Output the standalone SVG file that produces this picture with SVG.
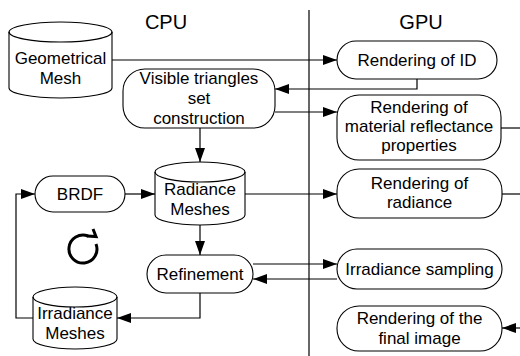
<svg xmlns="http://www.w3.org/2000/svg" width="520" height="356" viewBox="0 0 520 356">
<style>
.t{font-family:"Liberation Sans",Arial,sans-serif;font-size:17px;fill:#000;text-anchor:middle}
.h{font-family:"Liberation Sans",Arial,sans-serif;font-size:20px;fill:#000;text-anchor:middle}
.n{fill:#fff;stroke:#000;stroke-width:1.1}
.c{fill:none;stroke:#000;stroke-width:1.2}
</style>
<defs>
<marker id="a" markerUnits="userSpaceOnUse" markerWidth="16" markerHeight="10" refX="14" refY="5" orient="auto">
<path d="M0,0 L14,5 L0,10 Z" fill="#000"/>
</marker>
</defs>
<rect width="520" height="356" fill="#fff"/>
<line x1="309" y1="10" x2="309" y2="356" stroke="#000" stroke-width="1.2"/>
<text class="h" x="166" y="29">CPU</text>
<text class="h" x="421" y="29">GPU</text>
<g id="connectors">
<path class="c" d="M112,60 H337" marker-end="url(#a)"/>
<path class="c" d="M417,79 V89 H275" marker-end="url(#a)"/>
<path class="c" d="M275,112 H337" marker-end="url(#a)"/>
<path class="c" d="M501,128 H520"/>
<path class="c" d="M200,128 V162" marker-end="url(#a)"/>
<path class="c" d="M245,194 H337" marker-end="url(#a)"/>
<path class="c" d="M502,194 H520"/>
<path class="c" d="M125,194 H155" marker-end="url(#a)"/>
<path class="c" d="M200,225 V255" marker-end="url(#a)"/>
<path class="c" d="M253,264 H337" marker-end="url(#a)"/>
<path class="c" d="M337,279 H253" marker-end="url(#a)"/>
<path class="c" d="M200,293 V318 H117" marker-end="url(#a)"/>
<path class="c" d="M33,318 H16 V194 H35" marker-end="url(#a)"/>
<path class="c" d="M520,328 H502" marker-end="url(#a)"/>
</g>
<g id="geometrical-mesh">
<path class="n" d="M9,32 A51.5,10 0 0 1 112,32 L112,88 A51.5,10 0 0 1 9,88 Z"/>
<path class="c" d="M9,32 A51.5,10 0 0 0 112,32" stroke-width="1.1"/>
<text class="t" x="60.5" y="64">Geometrical</text>
<text class="t" x="60.5" y="84">Mesh</text>
</g>
<g id="rendering-id">
<rect class="n" x="337" y="41" width="160" height="38" rx="19"/>
<text class="t" x="417" y="66">Rendering of ID</text>
</g>
<g id="visible-triangles">
<rect class="n" x="123" y="69" width="152" height="59" rx="22"/>
<text class="t" x="199" y="84">Visible triangles</text>
<text class="t" x="199" y="104">set</text>
<text class="t" x="199" y="124">construction</text>
</g>
<g id="rendering-material">
<rect class="n" x="337" y="95" width="164" height="65" rx="22"/>
<text class="t" x="419" y="113">Rendering of</text>
<text class="t" x="419" y="132">material reflectance</text>
<text class="t" x="419" y="151">properties</text>
</g>
<g id="rendering-radiance">
<rect class="n" x="337" y="169" width="165" height="49" rx="22"/>
<text class="t" x="419.5" y="189">Rendering of</text>
<text class="t" x="419.5" y="208">radiance</text>
</g>
<g id="radiance-meshes">
<path class="n" d="M155,172 A45,10 0 0 1 245,172 L245,215 A45,10 0 0 1 155,215 Z"/>
<path class="c" d="M155,172 A45,10 0 0 0 245,172" stroke-width="1.1"/>
<text class="t" x="200" y="195">Radiance</text>
<text class="t" x="200" y="215">Meshes</text>
</g>
<g id="brdf">
<rect class="n" x="35" y="176" width="90" height="36" rx="18"/>
<text class="t" x="80" y="200">BRDF</text>
</g>
<g id="loop-icon">
<path d="M88,236 A14,14 0 1 0 96,244" fill="none" stroke="#000" stroke-width="3"/>
<path d="M87,236 L96,236.5 L93,229" fill="none" stroke="#000" stroke-width="3" stroke-linejoin="miter"/>
</g>
<g id="refinement">
<rect class="n" x="147" y="255" width="106" height="38" rx="19"/>
<text class="t" x="200" y="280">Refinement</text>
</g>
<g id="irradiance-sampling">
<rect class="n" x="337" y="249" width="165" height="40" rx="20"/>
<text class="t" x="419.5" y="275">Irradiance sampling</text>
</g>
<g id="irradiance-meshes">
<path class="n" d="M33,297 A42,10 0 0 1 117,297 L117,339 A42,10 0 0 1 33,339 Z"/>
<path class="c" d="M33,297 A42,10 0 0 0 117,297" stroke-width="1.1"/>
<text class="t" x="75" y="319">Irradiance</text>
<text class="t" x="75" y="339">Meshes</text>
</g>
<g id="rendering-final">
<rect class="n" x="337" y="306" width="165" height="45" rx="22"/>
<text class="t" x="419.5" y="324">Rendering of the</text>
<text class="t" x="419.5" y="344">final image</text>
</g>
</svg>
